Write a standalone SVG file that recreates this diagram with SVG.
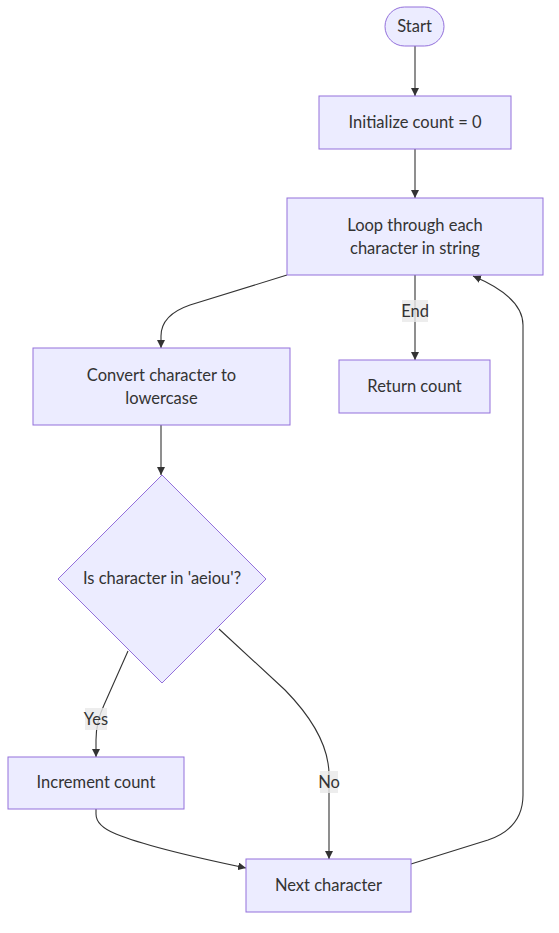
<svg xmlns="http://www.w3.org/2000/svg" width="559" height="933" viewBox="0 0 559 933">
<style>
.node rect,.node polygon{fill:#ECECFF;stroke:#9370DB;stroke-width:1px}
text{font-family:"Lato","Liberation Sans",sans-serif;font-size:16.5px;fill:#333;text-anchor:middle;dominant-baseline:central}
.edge{fill:none;stroke:#333;stroke-width:1.1px;marker-end:url(#arrow)}
.lbl rect{fill:#e8e8e8;opacity:0.8}
</style>
<defs>
<marker id="arrow" viewBox="0 0 10 10" refX="10" refY="5" markerWidth="8" markerHeight="8" markerUnits="userSpaceOnUse" orient="auto">
<path d="M0,0 L10,5 L0,10 z" fill="#333"/>
</marker>
</defs>
<rect width="559" height="933" fill="#fff"/>
<g id="edges">
<path class="edge" d="M415,46 L415,96"/>
<path class="edge" d="M415,149 L415,198"/>
<path class="edge" d="M287,275 L190,305 Q161,315 161,336 L161,348"/>
<path class="edge" d="M415,275 L415,360"/>
<path class="edge" d="M161,425 L161,475"/>
<path class="edge" d="M128,651 L104,705 Q96,722 96,740 L96,757"/>
<path class="edge" d="M219,629 L285,690 Q329,735 329,775 L329,859"/>
<path class="edge" d="M96,809 L96,814 Q96,826 116,834 Q150,848 246,868"/>
<path class="edge" d="M411,864 L488,840 Q523,828 523,795 L523,325 Q523,297 473,276"/>
</g>
<g id="edge-labels">
<g class="lbl"><rect x="402" y="300" width="26" height="22"/><text x="415" y="310.5">End</text></g>
<g class="lbl"><rect x="85" y="708" width="22" height="22"/><text x="96" y="718.5">Yes</text></g>
<g class="lbl"><rect x="320" y="771" width="18" height="22"/><text x="329" y="781.5">No</text></g>
</g>
<g id="start" class="node"><rect x="385" y="7" width="59" height="39" rx="19.5" ry="19.5"/><text x="414.5" y="26">Start</text></g>
<g id="init" class="node"><rect x="319" y="96" width="192" height="53"/><text x="415" y="122">Initialize count = 0</text></g>
<g id="loop" class="node"><rect x="287" y="198" width="256" height="77"/><text x="415" y="224.5">Loop through each</text><text x="415" y="247.5">character in string</text></g>
<g id="convert" class="node"><rect x="33" y="348" width="257" height="77"/><text x="161.5" y="374.5">Convert character to</text><text x="161.5" y="397.5">lowercase</text></g>
<g id="return" class="node"><rect x="339" y="360" width="151" height="53"/><text x="414.5" y="386">Return count</text></g>
<g id="decision" class="node"><polygon points="162,475 266,579 162,683 58,579"/><text x="162" y="578">Is character in 'aeiou'?</text></g>
<g id="increment" class="node"><rect x="8" y="757" width="176" height="52"/><text x="96" y="782">Increment count</text></g>
<g id="next" class="node"><rect x="246" y="859" width="165" height="53"/><text x="328.5" y="885">Next character</text></g>
</svg>
